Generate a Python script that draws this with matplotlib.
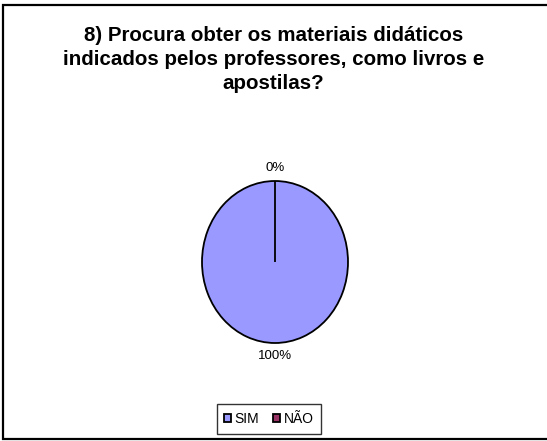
import matplotlib
matplotlib.use("Agg")
import matplotlib.pyplot as plt
from matplotlib.lines import Line2D

categories = ["SIM", "NÃO"]
values = [100, 0]
colors = ["#9999FF", "#993366"]
title = "8) Procura obter os materiais didáticos\nindicados pelos professores, como livros e\napostilas?"

plt.rcParams['font.family'] = ['Liberation Sans', 'DejaVu Sans']

W, H = 547, 441
fig = plt.figure(figsize=(W / 100, H / 100), dpi=100)

# outer border (left, top, bottom visible)
bx0, bx1 = 2.5 / W, 1.01
by0, by1 = 1 - 439 / H, 1 - 4.5 / H
fig.add_artist(Line2D([bx1, bx0, bx0, bx1], [by1, by1, by0, by0], transform=fig.transFigure,
                      color='black', linewidth=1.6, solid_joinstyle='miter'))

ax = fig.add_axes([202 / W, (H - 343) / H, 146 / W, 162 / H])
wedges, texts = ax.pie(values, colors=colors, startangle=90, counterclock=False,
                       wedgeprops=dict(edgecolor='black', linewidth=1.3),
                       autopct='%1.0f%%', pctdistance=1.16,
                       textprops=dict(fontsize=9.5, color='black'))[0:2]
ax.set_aspect('auto')
ax.set_xlim(-1, 1)
ax.set_ylim(-1, 1)

fig.text(0.5, 1 - 59.5 / H, title, ha='center', va='center', fontsize=14.8,
         fontweight='bold', linespacing=1.36)

leg = fig.legend(wedges, categories, loc='center', bbox_to_anchor=(269 / W, 1 - 419 / H),
                 ncol=2, fontsize=10, frameon=True, fancybox=False, handlelength=0.5,
                 handleheight=0.5, handletextpad=0.25, columnspacing=1.0,
                 borderpad=0.55, borderaxespad=0)
leg.get_frame().set_edgecolor('black')
leg.get_frame().set_linewidth(1.0)
for h in leg.legend_handles:
    h.set_linewidth(1.3)

fig.savefig("out.png", dpi=100)
